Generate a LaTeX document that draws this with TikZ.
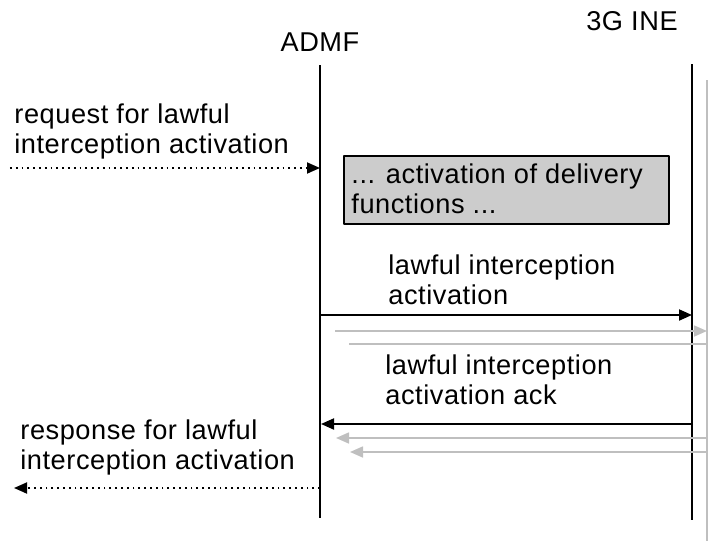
\documentclass[tikz,border=0pt]{standalone}
\usepackage{fontspec}
\setmainfont[LetterSpace=2]{Liberation Sans}
\usetikzlibrary{arrows.meta}
\definecolor{ghost}{RGB}{191,191,191}
\definecolor{boxgray}{RGB}{204,204,204}
\tikzset{
	lbl/.style={anchor=base west, inner sep=0pt, align=left},
	msg/.style={line width=1pt, -{Triangle[length=6.5pt,width=5.5pt]}},
	shadow msg/.style={line width=0.8pt, draw=ghost, -{Triangle[length=6.5pt,width=5.5pt,fill=ghost]}},
	ext msg/.style={line width=0.9pt, dotted, -{Triangle[length=6.5pt,width=5.5pt]}},
	lifeline/.style={line width=1pt}
}
\begin{document}
\begin{tikzpicture}[x=0.5pt, y=-0.5pt, font=\fontsize{13.6}{15}\selectfont, line join=round]
	\useasboundingbox (0,0) rectangle (709,541);
	\def\xadmf{320} \def\xine{692} \def\xecho{707}
	% lebenslinien
	\node (admf) at (\xadmf,51) [anchor=base] {ADMF};
	\node (ine) at (632,30) [anchor=base] {3G INE};
	\coordinate (admf top) at (\xadmf,65);  \coordinate (admf bot) at (\xadmf,518);
	\coordinate (ine top) at (\xine,64);    \coordinate (ine bot) at (\xine,520);
	\coordinate (echo top) at (\xecho,80);  \coordinate (echo bot) at (\xecho,541);
	\draw[lifeline] (admf top)--(admf bot);
	\draw[lifeline] (ine top)--(ine bot);
	\draw[line width=0.8pt, ghost] (echo top)--(echo bot);
	% anforderung (base = letzte zeile)
	\node (req) at (14,153) [lbl] {request for lawful\\interception activation};
	\coordinate (req start) at (10,168); \coordinate (req end) at (\xadmf,168);
	\draw[ext msg] (req start)--(req end);
	\node (deliv) at (343,155) [anchor=north west, draw, line width=1pt, fill=boxgray,
		minimum width=162.5pt, minimum height=34pt, inner sep=0pt] {};
	\node (delivtxt) at (351,213) [lbl] {... activation of delivery\\functions ...};
	% aktivierung
	\node (act) at (388,304) [lbl] {lawful interception\\activation};
	\coordinate (act a) at (\xadmf,315); \coordinate (act b) at (\xine,315);
	\draw[msg] (act a)--(act b);
	\coordinate (act c) at (335,331); \coordinate (act d) at (\xecho,331);
	\draw[shadow msg] (act c)--(act d);
	\coordinate (act e) at (349,344); \coordinate (act f) at (\xecho,344);
	\draw[line width=0.8pt, ghost] (act e)--(act f);
	% quittung
	\node (ack) at (385,404) [lbl] {lawful interception\\activation ack};
	\coordinate (ack a) at (693,424); \coordinate (ack b) at (321,424);
	\draw[msg] (ack a)--(ack b);
	\coordinate (ack c) at (\xecho,438); \coordinate (ack d) at (336,438);
	\draw[shadow msg] (ack c)--(ack d);
	\coordinate (ack e) at (\xecho,452); \coordinate (ack f) at (350,452);
	\draw[shadow msg] (ack e)--(ack f);
	% antwort
	\node (resp) at (20,469) [lbl] {response for lawful\\interception activation};
	\coordinate (resp start) at (\xadmf,488); \coordinate (resp end) at (14,488);
	\draw[ext msg] (resp start)--(resp end);
\end{tikzpicture}
\end{document}
